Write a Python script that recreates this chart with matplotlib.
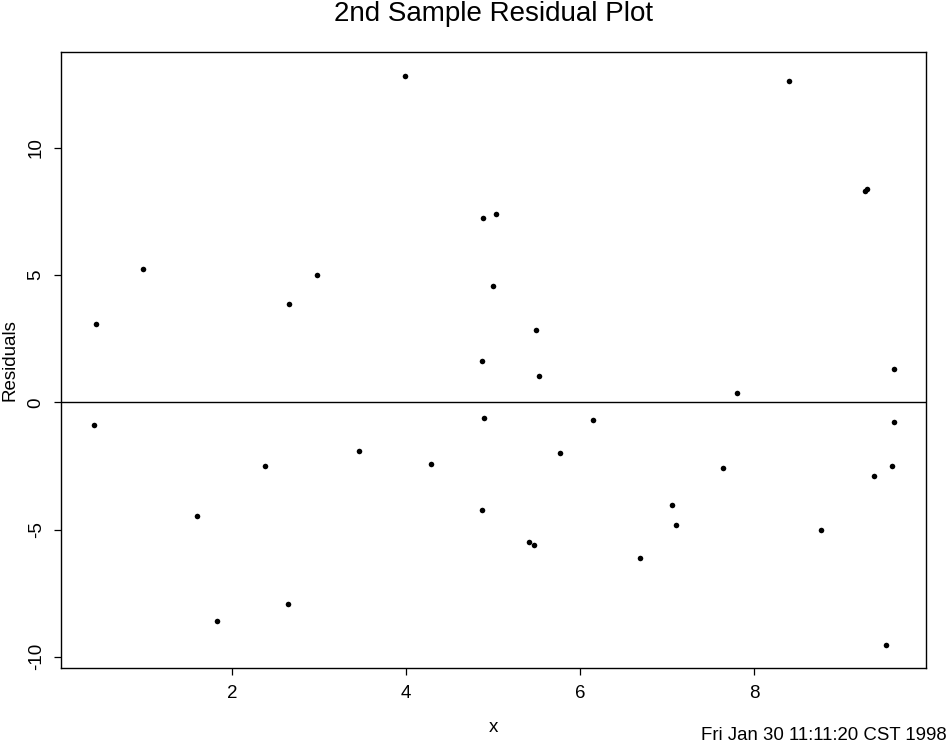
import matplotlib
matplotlib.use("Agg")
import matplotlib.pyplot as plt

plt.rcParams['font.family'] = ['Liberation Sans', 'DejaVu Sans']

# x values and residuals
x = [0.437, 0.98, 2.655, 2.977, 3.99,
     8.40, 9.27, 9.30, 4.89, 5.04, 5.00, 5.50, 4.88, 5.53, 7.80, 9.61,
     0.417, 1.60, 1.83, 2.38, 2.64, 3.46, 4.29,
     4.90, 6.15, 9.61, 5.77, 7.64, 9.38, 9.59, 4.88, 7.06, 7.10,
     5.42, 5.47, 6.69, 8.77, 9.52]
resid = [3.06, 5.23, 3.85, 4.99, 12.83,
         12.61, 8.32, 8.36, 7.23, 7.39, 4.58, 2.83, 1.61, 1.05, 0.38, 1.30,
         -0.90, -4.48, -8.61, -2.51, -7.94, -1.93, -2.44,
         -0.63, -0.71, -0.79, -2.00, -2.59, -2.91, -2.51, -4.24, -4.05, -4.83,
         -5.50, -5.62, -6.13, -5.03, -9.55]

x_ticks = [2, 4, 6, 8]
y_ticks = [-10, -5, 0, 5, 10]

fig = plt.figure(figsize=(9.49, 7.46), dpi=100)
ax = fig.add_axes([0.0646, 0.1042, 0.9115, 0.8257])

ax.plot(x, resid, 'o', color='black', markersize=4.0, markeredgewidth=0)
ax.axhline(0, color='black', linewidth=1.0)

ax.set_xlim(0.04, 9.98)
ax.set_ylim(-10.45, 13.75)
ax.set_xticks(x_ticks)
ax.set_yticks(y_ticks)
ax.set_xticklabels([str(t) for t in x_ticks], fontsize=13.5)
ax.set_yticklabels([str(t) for t in y_ticks], fontsize=13.5, rotation=90, va='center')
ax.tick_params(direction='out', length=5, width=0.9, pad=7, colors='black')
for s in ax.spines.values():
    s.set_linewidth(1.0)

ax.set_xlabel('x', fontsize=13.5, labelpad=12)
# y label sits right at the left edge, as in the reference
fig.text(10 / 949, 0.5175, 'Residuals', fontsize=13.5, rotation=90,
         ha='center', va='center')

fig.text(0.52, 0.999, '2nd Sample Residual Plot', fontsize=20, ha='center', va='top')
fig.text(0.998, 0.003, 'Fri Jan 30 11:11:20 CST 1998', fontsize=13.4, ha='right', va='bottom')

fig.savefig('out.png', dpi=100)
